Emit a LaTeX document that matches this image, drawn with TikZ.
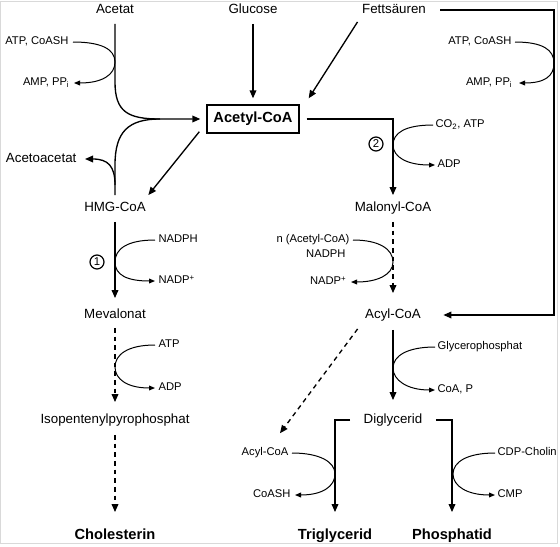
\documentclass[tikz,border=0pt]{standalone}
\usepackage{fontspec}
\setmainfont{Liberation Sans}
\usetikzlibrary{arrows.meta,calc}
\begin{document}
\begin{tikzpicture}[x=0.75pt,y=-0.75pt,
  lbl/.style={font=\fontsize{10}{12}\selectfont, inner sep=1pt, text height=7.5pt, text depth=2pt},
  prod/.style={font=\fontsize{11}{13}\selectfont\bfseries, inner sep=1pt, text height=8.5pt, text depth=2.5pt},
  sm/.style={font=\fontsize{8.4}{10}\selectfont, inner sep=1pt, text height=6pt, text depth=1.7pt},
  num/.style={circle, draw, line width=0.9pt, inner sep=0pt, minimum size=10.5pt, font=\fontsize{8.5}{9}\selectfont},
  flow/.style={line width=1pt, -{Triangle[length=6pt,width=5pt]}},
  plain/.style={line width=1pt},
  dflow/.style={flow, dash pattern=on 3.5pt off 3pt},
  side/.style={line width=0.75pt, -{Triangle[length=4.5pt,width=3.6pt]}}
]
\useasboundingbox (0,0) rectangle (560,546);
\draw[gray!30, line width=0.6pt] (0.5,1.5) rectangle (557.5,543.5);

% main nodes
\node[lbl] (acetat) at (115,10) {Acetat};
\node[lbl] (glucose) at (253,10) {Glucose};
\node[lbl] (fett) at (394,10) {Fettsäuren};
\node[draw, line width=1pt, minimum width=69pt, minimum height=21pt, inner sep=2pt,
      font=\fontsize{11}{13}\selectfont\bfseries] (acoa) at (253,119) {Acetyl-CoA};
\node[lbl, anchor=east] (aceto) at (78,159) {Acetoacetat};
\node[lbl] (hmg) at (115,208) {HMG-CoA};
\node[lbl] (meval) at (115,315) {Mevalonat};
\node[lbl] (ipp) at (115,420) {Isopentenylpyrophosphat};
\node[prod] (chol) at (115,535) {Cholesterin};
\node[lbl] (malonyl) at (393,208) {Malonyl-CoA};
\node[lbl] (acyl) at (393,315) {Acyl-CoA};
\node[lbl] (digly) at (393,420) {Diglycerid};
\node[prod] (trigly) at (335,535) {Triglycerid};
\node[prod] (phos) at (452,535) {Phosphatid};

% side labels
\node[sm, anchor=east] (atp1) at (70,42) {ATP, CoASH};
\node[sm, anchor=east] (amp1) at (71,83) {AMP, PP\textsubscript{i}};
\node[sm, anchor=east] (atp2) at (513,42) {ATP, CoASH};
\node[sm, anchor=east] (amp2) at (514,83) {AMP, PP\textsubscript{i}};
\node[sm, anchor=west] (co2) at (434,125) {CO\textsubscript{2}, ATP};
\node[sm, anchor=west] (adp1) at (436,165) {ADP};
\node[sm, anchor=west] (nadph1) at (157,240) {NADPH};
\node[sm, anchor=west] (nadp1) at (157,281) {NADP\textsuperscript{+}};
\node[sm, anchor=west] (atp3) at (157,345) {ATP};
\node[sm, anchor=west] (adp3) at (157,388) {ADP};
\node[sm, anchor=east] (nacoa1) at (351,240) {n (Acetyl-CoA)};
\node[sm, anchor=east] (nacoa2) at (347,255) {NADPH};
\node[sm, anchor=east] (nadp2) at (348,282) {NADP\textsuperscript{+}};
\node[sm, anchor=west] (glyp) at (436,347) {Glycerophosphat};
\node[sm, anchor=west] (coap) at (436,390) {CoA, P};
\node[sm, anchor=east] (acyl2) at (290,453) {Acyl-CoA};
\node[sm, anchor=east] (coash) at (292,495) {CoASH};
\node[sm, anchor=west] (cdp) at (496,453) {CDP-Cholin};
\node[sm, anchor=west] (cmp) at (496,495) {CMP};
\node[num] (n1) at (97,262) {1};
\node[num] (n2) at (376,144) {2};

% helper coordinates
\coordinate (merge) at (160,119);
\coordinate (fork) at (115,185);
\coordinate (t1) at (115,62);
\coordinate (t2) at (554,63);
\coordinate (t3) at (393,145);
\coordinate (t4) at (115,262);
\coordinate (t5) at (115,367);
\coordinate (t6) at (393,262);
\coordinate (t7) at (393,368);
\coordinate (t8) at (335,474);
\coordinate (t9) at (453,474);
\coordinate (fcorner) at (554,10);

% Acetat -> Acetyl-CoA
\draw[flow] ($(acetat.south)+(0,6)$) -- (115,82) .. controls (115,112) and (128,119) .. (merge) -- ($(acoa.west)+(-6,0)$);
% stem from HMG-CoA side
\draw[plain] ($(hmg.north)+(0,-5)$) -- (fork) -- (115,165) .. controls (115,132) and (128,119) .. (merge);
\draw[flow] (fork) .. controls (115,166) and (108,159) .. ($(aceto.east)+(7,0)$);
% Glucose, Fettsaeuren -> Acetyl-CoA
\draw[flow] ($(glucose.south)+(0,6)$) -- ($(acoa.north)+(0,-6)$);
\draw[flow] ($(fett.south west)+(-3,4)$) -- ($(acoa.north east)+(9,-6)$);
% Fettsaeuren -> Acyl-CoA
\draw[flow] ($(fett.east)+(13,0)$) -- (fcorner) |- ($(acyl.east)+(21,0)$);
% Acetyl-CoA -> HMG-CoA
\draw[flow] ($(acoa.south west)+(-7,-2)$) -- ($(hmg.north east)+(1,-5)$);
% Acetyl-CoA -> Malonyl-CoA
\draw[flow] ($(acoa.east)+(7,0)$) -| ($(malonyl.north)+(0,-5)$);
% left chain
\draw[flow] ($(hmg.south)+(0,6)$) -- ($(meval.north)+(0,-9)$);
\draw[dflow] ($(meval.south)+(0,5)$) -- ($(ipp.north)+(0,-10)$);
\draw[dflow] ($(ipp.south)+(0,7)$) -- ($(chol.north)+(0,-14)$);
% right chain
\draw[dflow] ($(malonyl.south)+(0,6)$) -- ($(acyl.north)+(0,-14)$);
\draw[flow] ($(acyl.south)+(0,7)$) -- ($(digly.north)+(0,-12)$);
\draw[dflow] ($(acyl.south west)+(-6,6)$) -- ($(acyl2.north east)+(-10,-13)$);
\draw[flow] ($(digly.west)+(-12,0)$) -| ($(trigly.north)+(0,-14)$);
\draw[flow] ($(digly.east)+(12,0)$) -| ($(phos.north)+(0,-14)$);

% side loops
\draw[side] ($(atp1.east)+(3,0)$) .. controls +(28,0) and (115,49) .. (t1) .. controls (115,75) and +(28,0) .. ($(amp1.east)+(3,0)$);
\draw[side] ($(atp2.east)+(2,0)$) .. controls +(28,0) and (554,50) .. (t2) .. controls (554,76) and +(26,0) .. ($(amp2.east)+(5,0)$);
\draw[side] ($(co2.west)+(-1,0)$) .. controls +(-28,0) and (393,133) .. (t3) .. controls (393,157) and +(-28,0) .. ($(adp1.west)+(-1,0)$);
\draw[side] ($(nadph1.west)+(-2,0)$) .. controls +(-28,0) and (115,249) .. (t4) .. controls (115,275) and +(-28,0) .. ($(nadp1.west)+(-2,0)$);
\draw[side] ($(atp3.west)+(-2,0)$) .. controls +(-28,0) and (115,355) .. (t5) .. controls (115,379) and +(-28,0) .. ($(adp3.west)+(-2,0)$);
\draw[side] ($(nacoa1.east)+(2,0)$) .. controls +(26,0) and (393,249) .. (t6) .. controls (393,275) and +(26,0) .. ($(nadp2.east)+(3,0)$);
\draw[side] ($(glyp.west)+(-1,0)$) .. controls +(-28,0) and (393,356) .. (t7) .. controls (393,380) and +(-28,0) .. ($(coap.west)+(-1,0)$);
\draw[side] ($(acyl2.east)+(2,0)$) .. controls +(28,0) and (335,462) .. (t8) .. controls (335,486) and +(28,0) .. ($(coash.east)+(3,0)$);
\draw[side] ($(cdp.west)+(-1,0)$) .. controls +(-28,0) and (453,462) .. (t9) .. controls (453,486) and +(-28,0) .. ($(cmp.west)+(-1,0)$);
\end{tikzpicture}
\end{document}
